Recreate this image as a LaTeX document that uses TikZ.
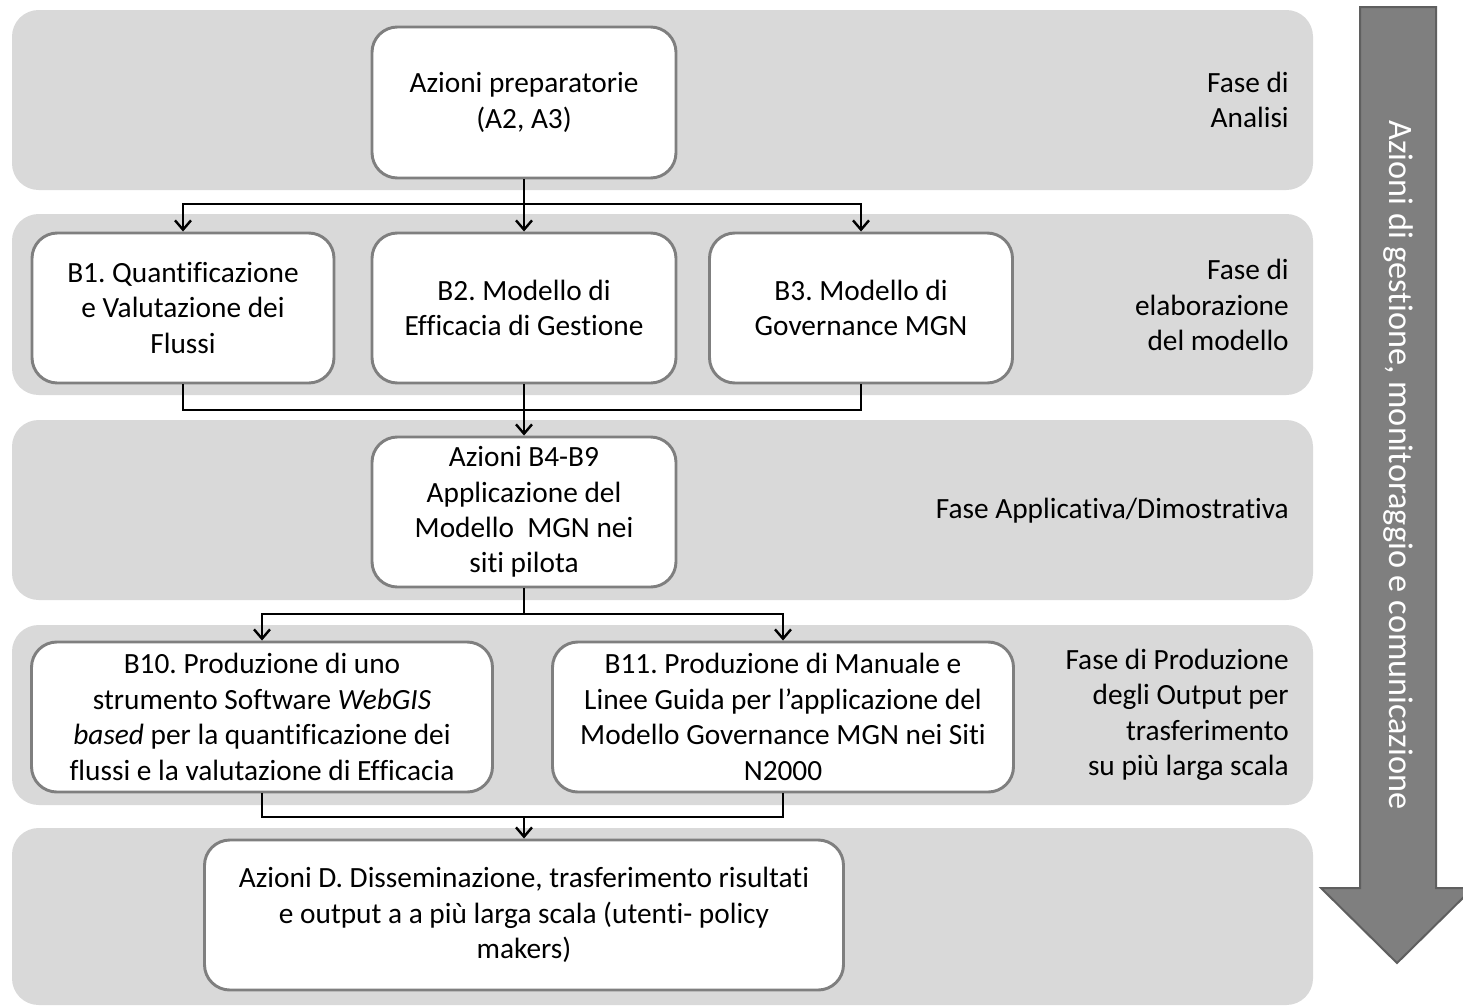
\documentclass[tikz,border=0pt]{standalone}
\usepackage{fontspec}
\setmainfont{Carlito}[Ligatures=NoCommon]
\usetikzlibrary{arrows.meta}
\definecolor{bandgray}{HTML}{D9D9D9}
\definecolor{bordgray}{HTML}{7F7F7F}
\definecolor{arrfill}{HTML}{7F7F7F}
\definecolor{arrbord}{HTML}{5F5F5F}
\frenchspacing
\begin{document}
\begin{tikzpicture}[x=0.75pt,y=-0.75pt,
  band/.style={fill=bandgray, draw=none, rounded corners=20pt},
  box/.style={draw=bordgray, fill=white, line width=2.2pt, rounded corners=19pt,
    align=center, inner sep=2pt, font=\fontsize{22}{26.6}\selectfont},
  phase/.style={anchor=east, align=right, inner sep=0pt, font=\fontsize{22}{26.6}\selectfont},
  conn/.style={draw=black, line width=1.8pt},
  arr/.style={conn, -{Straight Barb[length=7pt,width=12pt,line width=1.8pt]}}
]
\clip (0,0) rectangle (1463,1007);
\fill[white] (0,0) rectangle (1463,1007);

% bands
\path[band] (12,10) rectangle (1313,190);
\path[band] (12,214) rectangle (1313,395);
\path[band] (12,420) rectangle (1313,600);
\path[band] (12,625) rectangle (1313,805);
\path[band] (12,828) rectangle (1313,1005);

% boxes
\node[box, minimum width=304*0.75pt, minimum height=151*0.75pt] (A) at (524,102.5)
  {Azioni preparatorie\\(A2, A3)};
\node[box, minimum width=302*0.75pt, minimum height=150*0.75pt] (B1) at (183,308)
  {B1. Quantificazione\\e Valutazione dei\\Flussi};
\node[box, minimum width=304*0.75pt, minimum height=150*0.75pt] (B2) at (524,308)
  {B2. Modello di\\Efficacia di Gestione};
\node[box, minimum width=303*0.75pt, minimum height=150*0.75pt] (B3) at (861,308)
  {B3. Modello di\\Governance MGN};
\node[box, minimum width=304*0.75pt, minimum height=150*0.75pt] (B4) at (524,512)
  {Azioni B4-B9\\Applicazione del\\Modello\ \ MGN nei\\siti pilota};
\node[box, minimum width=461*0.75pt, minimum height=150*0.75pt] (B10) at (262,717)
  {B10. Produzione di uno\\strumento Software \textit{WebGIS}\\\textit{based} per la quantificazione dei\\flussi e la valutazione di Efficacia};
\node[box, minimum width=461*0.75pt, minimum height=150*0.75pt] (B11) at (783,717)
  {B11. Produzione di Manuale e\\Linee Guida per l’applicazione del\\Modello Governance MGN nei Siti\\N2000};
\node[box, minimum width=639*0.75pt, minimum height=150*0.75pt] (D) at (524,915)
  {Azioni D. Disseminazione, trasferimento risultati\\e output a a più larga scala (utenti- policy\\makers)};

% phase labels
\node[phase] (p1) at (1289,100) {Fase di\\Analisi};
\node[phase] (p2) at (1289,305) {Fase di\\elaborazione\\del modello};
\node[phase] (p3) at (1289,511) {Fase Applicativa/Dimostrativa};
\node[phase] (p4) at (1289,715) {Fase di Produzione\\degli Output per\\trasferimento\\su più larga scala};

% connectors
\coordinate (j1) at (524,204);
\coordinate (j2) at (524,410);
\coordinate (j3) at (524,614);
\coordinate (j4) at (524,817);
\draw[conn] (A.south) -- (j1);
\draw[arr] (j1) -| (B1.north);
\draw[arr] (j1) -- (B2.north);
\draw[arr] (j1) -| (B3.north);
\draw[conn] (B1.south) |- (j2) -| (B3.south);
\draw[arr] (B2.south) -- (B4.north);
\draw[conn] (B4.south) -- (j3);
\draw[arr] (j3) -| (B10.north);
\draw[arr] (j3) -| (B11.north);
\draw[conn] (B10.south) |- (j4) -| (B11.south);
\draw[arr] (j4) -- (D.north);

% big side arrow
\path[fill=arrfill, draw=arrbord, line width=1.5pt]
  (1360,7) -- (1436,7) -- (1436,888) -- (1473,888) -- (1397,963) -- (1321,888) -- (1360,888) -- cycle;
\node[rotate=-90, text=white, font=\fontsize{25.7}{30}\selectfont] (arrtxt) at (1398,465)
  {Azioni di gestione, monitoraggio e comunicazione};
\end{tikzpicture}
\end{document}
